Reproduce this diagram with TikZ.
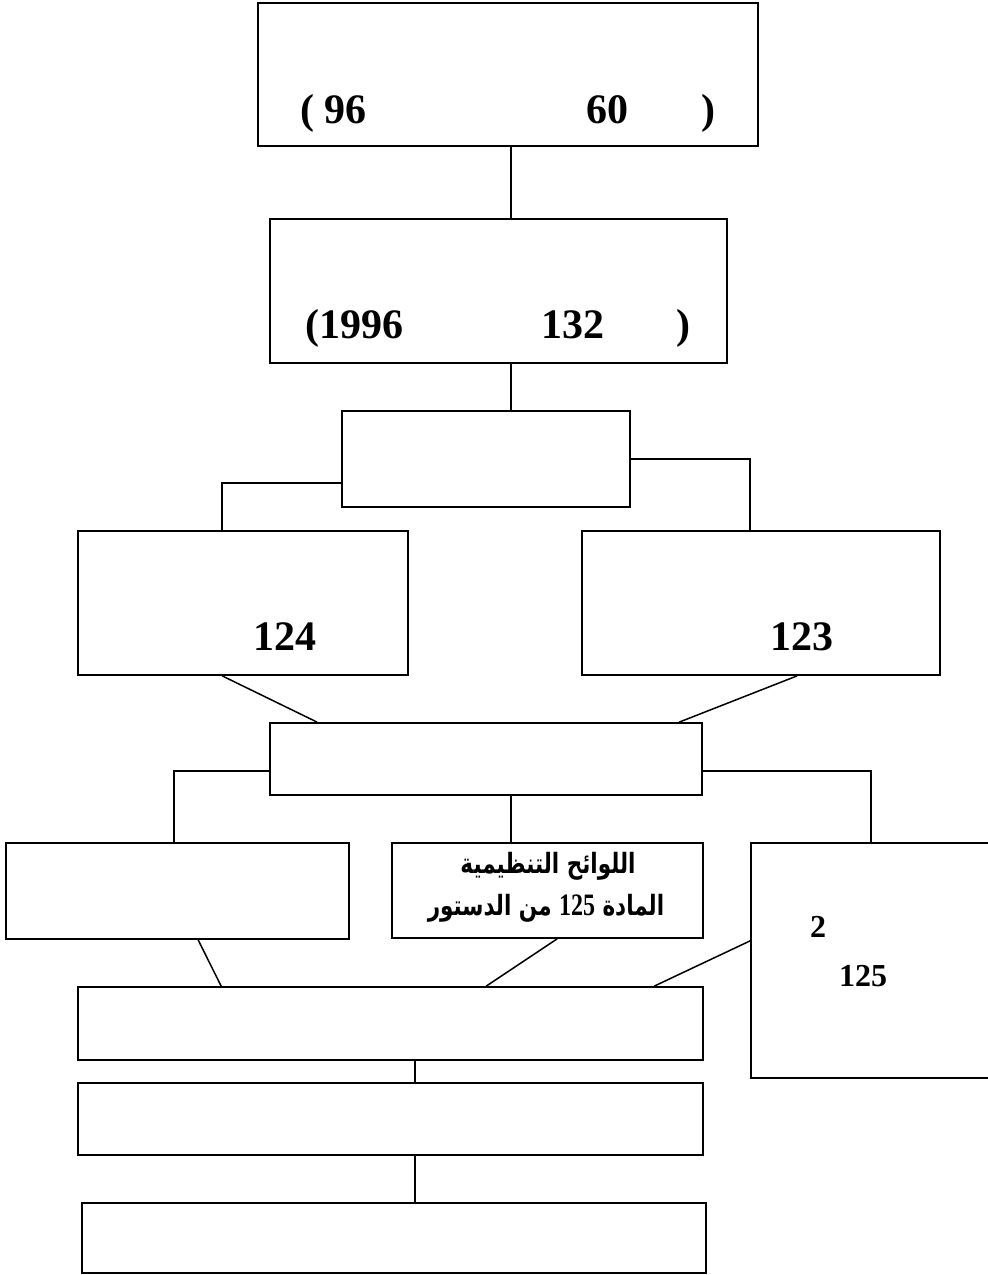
\documentclass[tikz,border=0pt]{standalone}
\usepackage{fontspec}
\usepackage{graphicx}
\usetikzlibrary{calc}
\setmainfont{Liberation Serif}
\newfontfamily\arabicfont[Script=Arabic]{DejaVu Sans}
\newfontfamily\numfont{Liberation Serif}
\TeXXeTstate=1
\begin{document}
\begin{tikzpicture}[x=1pt,y=-1pt,
  box/.style={draw=black,line width=1.7pt,rectangle,inner sep=0pt,fill=white},
  conn/.style={draw=black,line width=1.5pt},
  big/.style={font=\bfseries\fontsize{42}{42}\selectfont,inner sep=0pt,anchor=base},
  mid/.style={font=\bfseries\fontsize{32}{32}\selectfont,inner sep=0pt,anchor=base},
  arab/.style={inner sep=0pt,anchor=base}]
\useasboundingbox (0,0) rectangle (988,1275);
\clip (0,0) rectangle (988,1275);
% boxes
\node[box,minimum width=500pt,minimum height=143pt] (b1) at (508,74.5) {};
\node[box,minimum width=457pt,minimum height=144pt] (b2) at (498.5,291) {};
\node[box,minimum width=288pt,minimum height=96pt] (b3) at (486,459) {};
\node[box,minimum width=330pt,minimum height=144pt] (b124) at (243,603) {};
\node[box,minimum width=358pt,minimum height=144pt] (b123) at (761,603) {};
\node[box,minimum width=432pt,minimum height=72pt] (b4) at (486,759) {};
\node[box,minimum width=343pt,minimum height=96pt] (bL) at (177.5,891) {};
\node[box,minimum width=311pt,minimum height=95pt] (bM) at (547.5,890.5) {};
\node[box,minimum width=260pt,minimum height=235pt] (bR) at (881,960.5) {};
\node[box,minimum width=625pt,minimum height=73pt] (b5) at (390.5,1023.5) {};
\node[box,minimum width=625pt,minimum height=72pt] (b6) at (390.5,1119) {};
\node[box,minimum width=624pt,minimum height=70pt] (b7) at (394,1238) {};
% connector guide coordinates
\coordinate (xa) at (511,0);
\coordinate (xb) at (415,0);
\coordinate (c3l) at (222,483);
\coordinate (c3r) at (750,459);
\coordinate (c4l) at (174,771);
\coordinate (c4r) at (871,771);
% connectors
\draw[conn] (b1.south -| xa) -- (b2.north -| xa);
\draw[conn] (b2.south -| xa) -- (b3.north -| xa);
\draw[conn] (b3.west |- c3l) -- (c3l) -- (b124.north -| c3l);
\draw[conn] (b3.east |- c3r) -- (c3r) -- (b123.north -| c3r);
\draw[conn] ($(b124.south west)+(145,0)$) -- ($(b4.north west)+(48,0)$);
\draw[conn] ($(b123.south west)+(216,0)$) -- ($(b4.north west)+(410,0)$);
\draw[conn] (b4.west |- c4l) -- (c4l) -- (bL.north -| c4l);
\draw[conn] (b4.south -| xa) -- (bM.north -| xa);
\draw[conn] (b4.east |- c4r) -- (c4r) -- (bR.north -| c4r);
\draw[conn] ($(bL.south west)+(193,0)$) -- ($(b5.north west)+(144,0)$);
\draw[conn] ($(bM.south west)+(166,0)$) -- ($(b5.north west)+(409,0)$);
\draw[conn] ($(bR.south west)+(0,-138)$) -- ($(b5.north west)+(577,0)$);
\draw[conn] (b5.south -| xb) -- (b6.north -| xb);
\draw[conn] (b6.south -| xb) -- (b7.north -| xb);
% texts
\node[big] (t1a) at (333.5,123) {( 96};
\node[big] (t1b) at (607.5,123) {60};
\node[big] (t1c) at (708,123) {)};
\node[big] (t2a) at (354.5,338) {(1996};
\node[big] (t2b) at (572.5,338) {132};
\node[big] (t2c) at (683,338) {)};
\node[big] (t124) at (285,650) {124};
\node[big] (t123) at (802,650) {123};
\node[mid] (tr1) at (818,937) {2};
\node[mid] (tr2) at (863,986) {125};
\node[arab] (tm1) at (548,873) {\scalebox{1}[1.3]{\arabicfont\bfseries\fontsize{21.5}{21.5}\selectfont\beginR اللوائح التنظيمية\endR}};
\node[arab] (tm2) at (546,915) {\scalebox{1}[1.3]{\arabicfont\bfseries\fontsize{21.5}{21.5}\selectfont\beginR المادة \beginL{\numfont\bfseries\fontsize{24}{24}\selectfont 125}\endL{} من الدستور\endR}};
\end{tikzpicture}
\end{document}
